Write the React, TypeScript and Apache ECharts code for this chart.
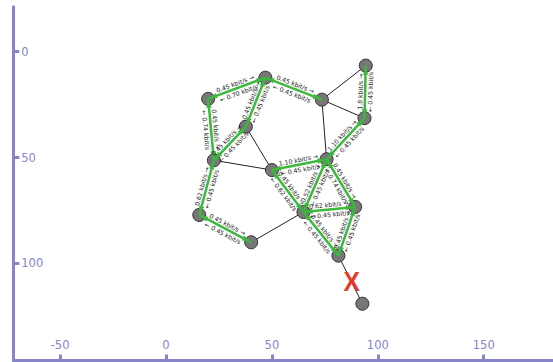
import React, { useEffect, useRef } from "react";
import * as echarts from "echarts";

// Node positions (node n is at index n-1)
const nodeX = [94.3, 46.9, 19.9, 73.6, 93.7, 37.7, 22.6, 75.8, 50.0, 15.7, 64.9, 89.3, 40.2, 81.4, 92.7];
const nodeY = [6.6, 12.3, 22.3, 22.7, 31.4, 35.4, 51.3, 50.8, 55.9, 77.1, 75.7, 73.3, 90.0, 96.3, 119.0];

// Links without traffic
const plainFrom = [1, 4, 4, 6, 7, 13, 14];
const plainTo = [4, 5, 8, 9, 9, 11, 15];

// Links with traffic: rateForward = from->to, rateBackward = to->from
const flowFrom = [3, 2, 6, 3, 7, 10, 10, 9, 8, 5, 9, 11, 8, 11, 11, 14];
const flowTo = [2, 4, 2, 7, 6, 7, 13, 8, 5, 1, 11, 8, 12, 12, 14, 12];
const rateForward = ["0.45", "0.45", "0.45", "0.45", "0.45", "0.62", "0.45", "1.10", "1.10", "1.8", "0.45", "0.52", "0.45", "0.62", "0.45", "0.45"];
const rateBackward = ["0.70", "0.45", "0.45", "0.74", "0.45", "0.45", "0.45", "0.45", "0.45", "0.45", "0.62", "0.45", "0.74", "0.45", "0.45", "0.45"];
const rateUnit = "kbit/s";

// Failed link marker
const failureX = [87.7];
const failureY = [108.3];
const failureLabel = "X";

// Axis ticks
const xTicks = [-50, 0, 50, 100, 150];
const yTicks = [0, 50, 100];

const AXIS = "#8585c8";
const GREEN = "#3cb83c";

export default function App() {
  const ref = useRef<HTMLDivElement>(null);
  useEffect(() => {
    const chart = echarts.init(ref.current!, null, { renderer: "svg" });

    const plainData = plainFrom.map((a, i) => {
      const b = plainTo[i];
      return [nodeX[a - 1], nodeY[a - 1], nodeX[b - 1], nodeY[b - 1]];
    });
    const flowData = flowFrom.map((a, i) => {
      const b = flowTo[i];
      return [nodeX[a - 1], nodeY[a - 1], nodeX[b - 1], nodeY[b - 1]];
    });
    const nodeData = nodeX.map((x, i) => [x, nodeY[i]]);
    const failData = failureX.map((x, i) => [x, failureY[i]]);

    const axisCommon = {
      type: "value",
      splitLine: { show: false },
      axisLine: { show: true, onZero: false, lineStyle: { color: AXIS, width: 3 } },
    };

    chart.setOption({
      animation: false,
      grid: { left: 13.3, top: 6.7, right: 0, bottom: 1.5, containLabel: false },
      xAxis: {
        ...axisCommon,
        min: -72.1,
        max: 182.7,
        position: "bottom",
        axisTick: { show: true, inside: true, length: 6, lineStyle: { color: AXIS, width: 3 }, customValues: xTicks },
        axisLabel: {
          inside: true,
          margin: 10,
          color: AXIS,
          fontSize: 11.5,
          fontFamily: "DejaVu Sans",
          customValues: xTicks,
        },
      },
      yAxis: {
        ...axisCommon,
        inverse: true,
        min: -21.2,
        max: 145.8,
        position: "left",
        axisTick: { show: true, inside: true, length: 6, lineStyle: { color: AXIS, width: 3 }, customValues: yTicks },
        axisLabel: {
          inside: true,
          margin: 8,
          color: AXIS,
          fontSize: 11.5,
          fontFamily: "DejaVu Sans",
          customValues: yTicks,
        },
      },
      series: [
        {
          type: "custom",
          silent: true,
          z: 1,
          encode: { x: [0, 2], y: [1, 3] },
          data: plainData,
          renderItem: (_params: any, api: any) => {
            const p1 = api.coord([api.value(0), api.value(1)]);
            const p2 = api.coord([api.value(2), api.value(3)]);
            return {
              type: "line",
              shape: { x1: p1[0], y1: p1[1], x2: p2[0], y2: p2[1] },
              style: { stroke: "#222", lineWidth: 1 },
            };
          },
        },
        {
          type: "scatter",
          silent: true,
          z: 2,
          symbol: "circle",
          symbolSize: 13,
          itemStyle: { color: "#777777", borderColor: "#333333", borderWidth: 1, opacity: 1 },
          data: nodeData,
        },
        {
          type: "custom",
          silent: true,
          z: 3,
          encode: { x: [0, 2], y: [1, 3] },
          data: flowData,
          renderItem: (params: any, api: any) => {
            const i = params.dataIndex;
            const p1 = api.coord([api.value(0), api.value(1)]);
            const p2 = api.coord([api.value(2), api.value(3)]);
            const dx = p2[0] - p1[0];
            const dy = p2[1] - p1[1];
            const len = Math.hypot(dx, dy) || 1;
            const ux = dx / len;
            const uy = dy / len;
            const off = 3;
            const arrow = (tx: number, ty: number, dirx: number, diry: number) => {
              const L = 6;
              const W = 2.8;
              const bx = tx - dirx * L;
              const by = ty - diry * L;
              return {
                type: "polygon",
                shape: {
                  points: [
                    [tx, ty],
                    [bx - diry * W, by + dirx * W],
                    [bx + diry * W, by - dirx * W],
                  ],
                },
                style: { fill: GREEN },
              };
            };
            let tx = ux;
            let ty = uy;
            let fwd = rateForward[i];
            let back = rateBackward[i];
            if (tx < 0) {
              tx = -tx;
              ty = -ty;
              fwd = rateBackward[i];
              back = rateForward[i];
            }
            const nx = ty;
            const ny = -tx;
            const rot = Math.atan2(-ty, tx);
            const mx = (p1[0] + p2[0]) / 2;
            const my = (p1[1] + p2[1]) / 2;
            const gap = 2;
            const font = { fontSize: 6.2, fontFamily: "DejaVu Sans", fill: "#1a1a1a" };
            return {
              type: "group",
              children: [
                {
                  type: "line",
                  shape: { x1: p1[0], y1: p1[1], x2: p2[0], y2: p2[1] },
                  style: { stroke: GREEN, lineWidth: 2.5 },
                },
                arrow(p2[0] - ux * off, p2[1] - uy * off, ux, uy),
                arrow(p1[0] + ux * off, p1[1] + uy * off, -ux, -uy),
                {
                  type: "text",
                  x: mx + nx * gap,
                  y: my + ny * gap,
                  rotation: rot,
                  style: { ...font, text: `${fwd} ${rateUnit} →`, align: "center", verticalAlign: "bottom" },
                },
                {
                  type: "text",
                  x: mx - nx * gap,
                  y: my - ny * gap,
                  rotation: rot,
                  style: { ...font, text: `← ${back} ${rateUnit}`, align: "center", verticalAlign: "top" },
                },
              ],
            };
          },
        },
        {
          type: "custom",
          silent: true,
          z: 4,
          data: failData,
          renderItem: (_params: any, api: any) => {
            const p = api.coord([api.value(0), api.value(1)]);
            return {
              type: "text",
              x: p[0],
              y: p[1],
              scaleX: 0.88,
              style: {
                text: failureLabel,
                fontSize: 28,
                fontWeight: "bold",
                fontFamily: "Liberation Sans",
                fill: "#e8392a",
                align: "center",
                verticalAlign: "middle",
              },
            };
          },
        },
      ],
    });
    return () => chart.dispose();
  }, []);
  return <div ref={ref} style={{ position: "absolute", left: 0, top: 0, width: 553, height: 362 }} />;
}
